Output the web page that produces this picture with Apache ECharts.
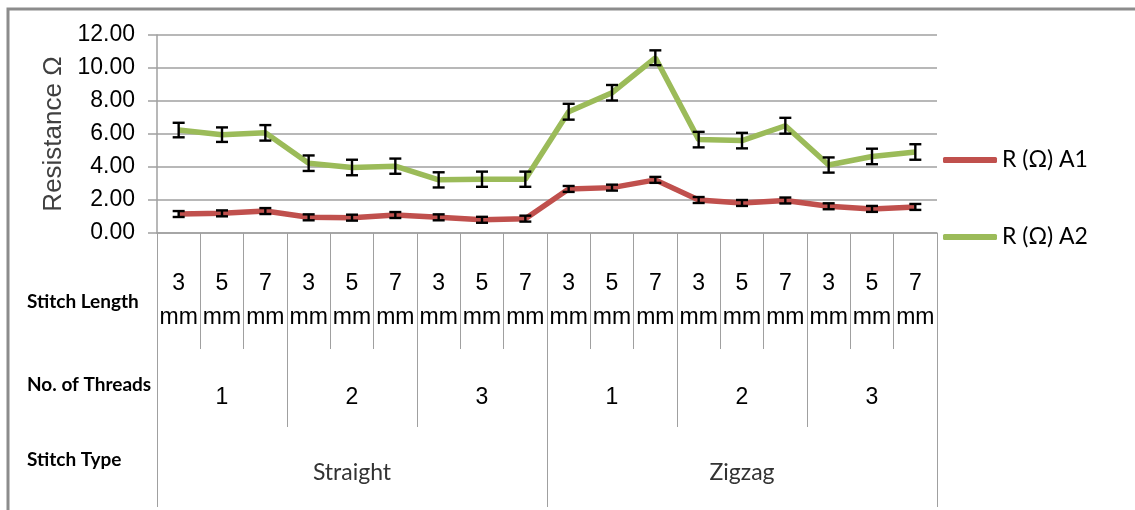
<!DOCTYPE html>
<html>
<head>
<meta charset="utf-8">
<script src="https://cdn.jsdelivr.net/npm/echarts@6/dist/echarts.min.js"></script>
<style>
  html, body { margin: 0; padding: 0; background: #fff; }
  #chart { width: 1135px; height: 510px; }
</style>
</head>
<body>
<div id="chart"></div>
<script>
// stitch length per point (mm), threads per group, stitch type
const stitchLengths = [3, 5, 7, 3, 5, 7, 3, 5, 7, 3, 5, 7, 3, 5, 7, 3, 5, 7];
const threadCounts = ['1', '2', '3', '1', '2', '3'];
const stitchTypes = ['Straight', 'Zigzag'];

const yTicks = [0, 2, 4, 6, 8, 10, 12];

// resistance values
const resA1 = [1.15, 1.19, 1.33, 0.95, 0.93, 1.09, 0.95, 0.80, 0.87,
               2.67, 2.75, 3.22, 2.00, 1.82, 1.97, 1.62, 1.46, 1.58];
const resA2 = [6.24, 5.96, 6.07, 4.23, 3.97, 4.05, 3.22, 3.26, 3.26,
               7.35, 8.50, 10.62, 5.66, 5.60, 6.50, 4.12, 4.64, 4.91];
const errA1 = [0.18, 0.18, 0.18, 0.18, 0.18, 0.18, 0.18, 0.18, 0.18,
               0.18, 0.18, 0.18, 0.18, 0.18, 0.18, 0.18, 0.18, 0.18];
const errA2 = [0.44, 0.44, 0.47, 0.47, 0.47, 0.46, 0.46, 0.46, 0.46,
               0.48, 0.47, 0.45, 0.47, 0.47, 0.48, 0.46, 0.47, 0.47];

const nameA1 = 'R (Ω) A1';
const nameA2 = 'R (Ω) A2';

const chart = echarts.init(document.getElementById('chart'));

const gridColor = '#a0a0a0';

function errorData(vals, errs) {
    return vals.map((v, i) => [i, v - errs[i], v + errs[i]]);
}

function renderError(params, api) {
    const x = api.value(0);
    const lo = api.coord([x, api.value(1)]);
    const hi = api.coord([x, api.value(2)]);
    const w = 6;
    const style = { stroke: '#000', lineWidth: 2.4 };
    return {
        type: 'group',
        children: [
            { type: 'line', shape: { x1: lo[0], y1: lo[1], x2: hi[0], y2: hi[1] }, style },
            { type: 'line', shape: { x1: lo[0] - w, y1: lo[1], x2: lo[0] + w, y2: lo[1] }, style },
            { type: 'line', shape: { x1: hi[0] - w, y1: hi[1], x2: hi[0] + w, y2: hi[1] }, style }
        ]
    };
}

const rowNames = [
    { text: 'Stitch Length', y: 302 },
    { text: 'No. of Threads', y: 385 },
    { text: 'Stitch Type', y: 460 }
];

// three stacked grids share the same rect so each category row gets its own bottom axis
const gridBox = { left: 157, right: 198, top: 35, bottom: 277, containLabel: false, outerBoundsMode: 'none' };

function tableAxis(gridIndex, data, tickLen, margin, extra) {
    return Object.assign({
        type: 'category',
        gridIndex,
        position: 'bottom',
        data,
        boundaryGap: true,
        axisLine: { show: gridIndex === 0, lineStyle: { color: gridColor, width: 1.5 } },
        axisTick: { show: true, interval: 0, length: tickLen, lineStyle: { color: gridColor, width: 1 } },
        splitLine: { show: false }
    }, extra, {
        axisLabel: Object.assign({
            interval: 0,
            margin,
            fontFamily: 'Liberation Sans',
            fontSize: 23,
            lineHeight: 24,
            color: '#000'
        }, extra.axisLabel)
    });
}

const hiddenY = gi => ({
    type: 'value', gridIndex: gi, min: 0, max: 12, interval: 2,
    show: false, splitLine: { show: false }
});

const options = {
    animation: false,
    backgroundColor: '#fff',
    grid: [gridBox, gridBox, gridBox],
    legend: {
        data: [nameA1, nameA2],
        orient: 'vertical',
        left: 943,
        top: 148,
        padding: 0,
        icon: 'roundRect',
        itemWidth: 54,
        itemHeight: 6,
        itemGap: 53,
        textStyle: { fontFamily: 'Lato', fontSize: 23, color: '#000', lineHeight: 24 }
    },
    xAxis: [
        tableAxis(0, stitchLengths, 116, 34, {
            axisLabel: { formatter: v => v + '\nmm', lineHeight: 34 }
        }),
        tableAxis(1, threadCounts, 194, 153, { axisLabel: {} }),
        tableAxis(2, stitchTypes, 274, 228, {
            axisLabel: { fontFamily: 'Lato', color: '#333' }
        })
    ],
    yAxis: [
        {
            type: 'value',
            gridIndex: 0,
            min: yTicks[0],
            max: yTicks[yTicks.length - 1],
            interval: 2,
            name: 'Resistance Ω',
            nameLocation: 'middle',
            nameGap: 84,
            nameRotate: 90,
            nameTextStyle: { fontFamily: 'Liberation Sans', fontSize: 26, color: '#404040' },
            axisLine: { show: true, lineStyle: { color: gridColor, width: 1.5 } },
            axisTick: { show: true, inside: false, length: 9, lineStyle: { color: gridColor, width: 1.5 } },
            axisLabel: {
                margin: 22,
                formatter: v => v.toFixed(2),
                fontFamily: 'Liberation Sans',
                fontSize: 23,
                color: '#000'
            },
            splitLine: { show: true, lineStyle: { color: gridColor, width: 1.5 } }
        },
        hiddenY(1),
        hiddenY(2)
    ],
    series: [
        {
            name: nameA1,
            type: 'line',
            data: resA1,
            symbol: 'none',
            lineStyle: { color: '#C0504D', width: 5.5 },
            itemStyle: { color: '#C0504D' },
            z: 3
        },
        {
            name: nameA2,
            type: 'line',
            data: resA2,
            symbol: 'none',
            lineStyle: { color: '#9BBB59', width: 5.5 },
            itemStyle: { color: '#9BBB59' },
            z: 3
        },
        {
            name: 'errA1',
            type: 'custom',
            renderItem: renderError,
            encode: { x: 0, y: [1, 2] },
            data: errorData(resA1, errA1),
            z: 5
        },
        {
            name: 'errA2',
            type: 'custom',
            renderItem: renderError,
            encode: { x: 0, y: [1, 2] },
            data: errorData(resA2, errA2),
            z: 5
        }
    ],
    graphic: [
        {
            type: 'polyline',
            shape: { points: [[8, 512], [8, 9], [1137, 9]] },
            style: { stroke: '#8c8c8c', lineWidth: 3, fill: null }
        }
    ].concat(rowNames.map(r => ({
        type: 'text',
        x: 27,
        y: r.y,
        style: {
            text: r.text,
            font: 'bold 19px Lato',
            fill: '#000',
            verticalAlign: 'middle'
        }
    })))
};

chart.setOption(options);
</script>
</body>
</html>
